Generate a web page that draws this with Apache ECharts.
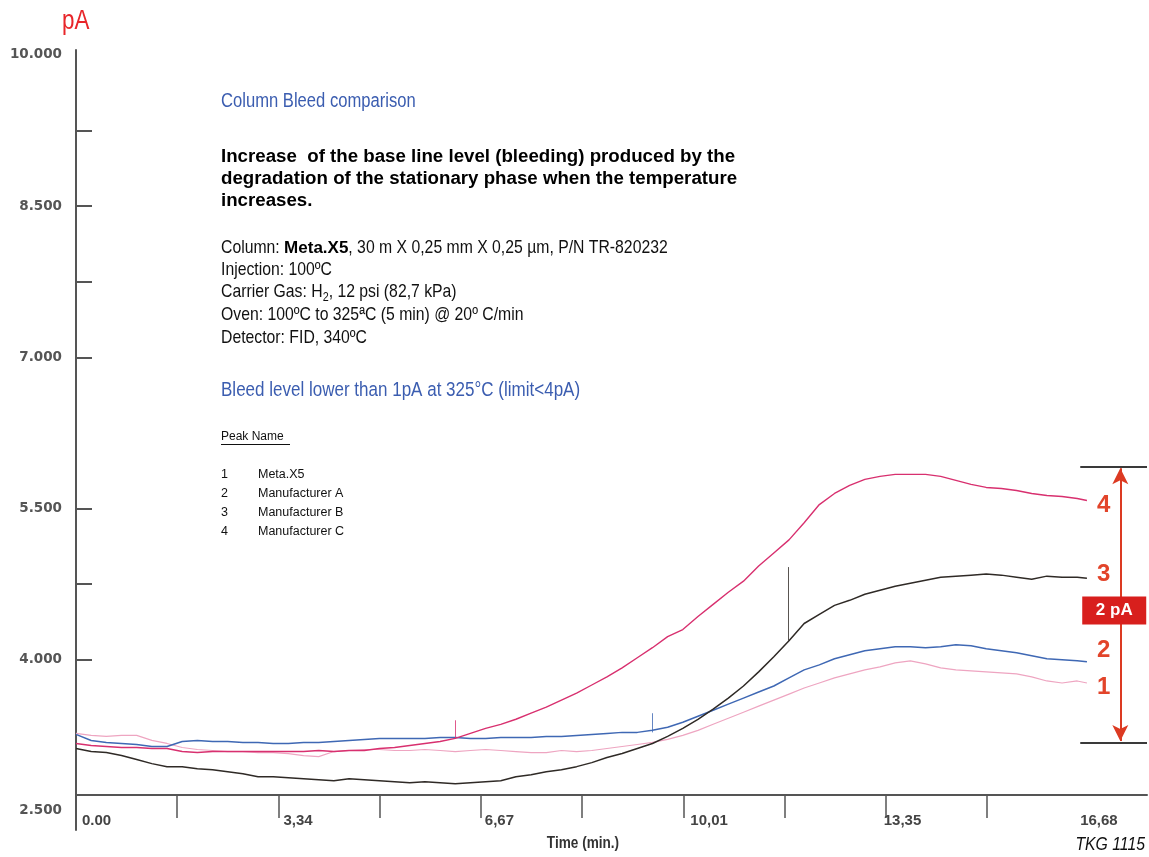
<!DOCTYPE html>
<html>
<head>
<meta charset="utf-8">
<script src="https://cdn.jsdelivr.net/npm/echarts@6/dist/echarts.min.js"></script>
<style>
html,body{margin:0;padding:0;background:#fff;}
#chart{width:1149px;height:857px;}
</style>
</head>
<body>
<div id="chart"></div>
<script>
// ---------------- data ----------------
const time = [0,0.25,0.5,0.75,1,1.25,1.5,1.75,2,2.25,2.5,2.75,3,3.25,3.5,3.75,4,4.25,4.5,4.75,5,5.25,5.5,5.75,6,6.25,6.5,6.75,7,7.25,7.5,7.75,8,8.25,8.5,8.75,9,9.25,9.5,9.75,10,10.25,10.5,10.75,11,11.25,11.5,11.75,12,12.25,12.5,12.75,13,13.25,13.5,13.75,14,14.25,14.5,14.75,15,15.25,15.5,15.75,16,16.25,16.5,16.66];

// 1 Meta.X5 (light pink)
const metaX5 = [3.27,3.25,3.24,3.25,3.25,3.20,3.17,3.13,3.11,3.10,3.09,3.09,3.08,3.08,3.07,3.05,3.04,3.09,3.10,3.11,3.11,3.10,3.10,3.11,3.10,3.09,3.10,3.11,3.10,3.09,3.08,3.08,3.10,3.09,3.10,3.12,3.14,3.16,3.18,3.21,3.25,3.30,3.36,3.42,3.48,3.54,3.60,3.66,3.72,3.77,3.82,3.86,3.90,3.93,3.97,3.99,3.96,3.92,3.90,3.89,3.88,3.87,3.86,3.83,3.79,3.77,3.79,3.77];
// 2 Manufacturer A (blue)
const manufA = [3.26,3.20,3.18,3.17,3.16,3.14,3.14,3.19,3.20,3.19,3.19,3.18,3.18,3.17,3.17,3.18,3.18,3.19,3.20,3.21,3.22,3.22,3.22,3.22,3.23,3.23,3.22,3.22,3.23,3.23,3.23,3.24,3.24,3.25,3.26,3.27,3.28,3.28,3.30,3.33,3.38,3.44,3.50,3.56,3.62,3.68,3.74,3.82,3.90,3.95,4.01,4.05,4.09,4.11,4.13,4.13,4.12,4.13,4.15,4.14,4.11,4.09,4.07,4.04,4.01,4.00,3.99,3.98];
// 3 Manufacturer B (dark)
const manufB = [3.12,3.09,3.08,3.05,3.01,2.97,2.94,2.94,2.92,2.91,2.89,2.87,2.84,2.84,2.83,2.82,2.81,2.80,2.82,2.81,2.80,2.79,2.78,2.79,2.78,2.77,2.78,2.79,2.80,2.84,2.86,2.89,2.91,2.94,2.98,3.03,3.07,3.12,3.17,3.24,3.32,3.41,3.51,3.62,3.74,3.88,4.03,4.19,4.36,4.45,4.54,4.59,4.65,4.69,4.73,4.76,4.79,4.82,4.83,4.84,4.85,4.84,4.82,4.80,4.83,4.82,4.82,4.81];
// 4 Manufacturer C (magenta)
const manufC = [3.17,3.15,3.14,3.13,3.13,3.12,3.12,3.09,3.08,3.09,3.09,3.09,3.09,3.09,3.09,3.09,3.10,3.09,3.10,3.10,3.12,3.13,3.15,3.17,3.19,3.22,3.27,3.32,3.36,3.41,3.47,3.53,3.60,3.67,3.75,3.83,3.92,4.02,4.12,4.23,4.30,4.43,4.55,4.67,4.78,4.93,5.06,5.19,5.36,5.54,5.65,5.73,5.79,5.82,5.84,5.84,5.84,5.82,5.78,5.74,5.71,5.70,5.68,5.65,5.63,5.62,5.60,5.58];

// spikes: [time, base, top]
const spikesA = [[9.49, 3.28, 3.47]];
const spikesB = [[11.74, 4.19, 4.92]];
const spikesC = [[6.25, 3.22, 3.40]];

const seriesNames = ['Meta.X5','Manufacturer A','Manufacturer B','Manufacturer C'];
const peakNumbers = ['1','2','3','4'];

// axes
const yTickValues = [4.0, 4.75, 5.5, 7.0, 7.75, 8.5, 9.25];
const yLabelValues = [2.5, 4.0, 5.5, 7.0, 8.5, 10.0];
const xTickValues = [1.668, 3.336, 5.004, 6.672, 8.34, 10.008, 11.676, 13.344, 15.012];
const xLabelValues = [0, 3.336, 6.672, 10.008, 13.344, 16.68];
const xLabelTexts = ['0.00','3,34','6,67','10,01','13,35','16,68'];

// bracket annotation (pA levels) and its label
const bracketLevels = [5.92, 3.175];
const bracketLabel = '2 pA';

// ---------------- chart ----------------
const SANS = "'Liberation Sans',Arial,Helvetica,sans-serif";
const NX = 0.83; // horizontal squeeze to imitate a narrow face
const colors = ['#eea5c1', '#3f68b4', '#2f2a26', '#d8306f'];
const widths = [1.2, 1.5, 1.5, 1.4];
const RED = '#e2442a';
const BLUE = '#3b5db0';

const X_MAX = 17.65, Y_MIN = 2.3115, Y_MAX = 10.0496;

function spikeLines(arr){ return arr.map(s => [{coord:[s[0], s[1]]},{coord:[s[0], s[2]]}]); }

const valueSets = [metaX5, manufA, manufB, manufC];
const spikeSets = [[], spikesA, spikesB, spikesC];
const endOffsets = [[0,4],[0,-11],[0,-4],[0,5]];

const lineSeries = valueSets.map((vals, k) => ({
  name: seriesNames[k],
  type: 'line',
  xAxisIndex: 0, yAxisIndex: 0,
  data: time.map((t, i) => [t, vals[i]]),
  showSymbol: false,
  symbol: 'none',
  z: k === 0 ? 2 : 3,
  lineStyle: {color: colors[k], width: widths[k]},
  itemStyle: {color: colors[k]},
  endLabel: {
    show: true, formatter: peakNumbers[k], distance: 10, offset: endOffsets[k],
    color: RED, fontSize: 24, fontWeight: 'bold', fontFamily: SANS
  },
  markLine: spikeSets[k].length ? {
    silent: true, symbol: 'none', animation: false,
    label: {show: false},
    lineStyle: {color: colors[k], width: 1, type: 'solid', opacity: 0.8},
    data: spikeLines(spikeSets[k])
  } : undefined
}));

const bracketX0 = 16.55, arrowX = 17.21;
const bracketSeries = {
  type: 'line', xAxisIndex: 0, yAxisIndex: 0, data: [],
  markLine: {
    silent: true, symbol: 'none', animation: false, label: {show: false},
    lineStyle: {color: '#3a3a3a', width: 2, type: 'solid'},
    data: bracketLevels.map(v => [{coord:[bracketX0, v]},{coord:[X_MAX, v]}])
  }
};
const arrowSeries = {
  type: 'line', xAxisIndex: 0, yAxisIndex: 0, data: [],
  markLine: {
    silent: true, symbol: ['arrow','arrow'], symbolSize: [12, 16], animation: false,
    label: {show: false},
    lineStyle: {color: '#dc3a22', width: 2, type: 'solid'},
    data: [[{coord:[arrowX, bracketLevels[0]-0.02]},{coord:[arrowX, bracketLevels[1]+0.02]}]]
  },
  markPoint: {
    silent: true, animation: false,
    data: [{
      coord: [17.11, 4.49], symbol: 'rect', symbolSize: [64, 28],
      itemStyle: {color: '#d81f1d'},
      label: {show: true, position: 'inside', formatter: bracketLabel, color: '#fff',
               fontSize: 17, fontWeight: 'bold', fontFamily: SANS}
    }]
  }
};

// text layout helpers
const mctx = document.createElement('canvas').getContext('2d');
function measure(text, font){ mctx.font = font; return mctx.measureText(text).width; }
const graphics = [];
function txt(text, x, y, font, fill, sx, align){
  graphics.push({type:'text', x:x, y:y, scaleX: sx || 1, silent:true,
    style:{text:text, font:font, fill:fill || '#111', align: align || 'left', verticalAlign:'middle'}});
}
function seg(x, y, parts){
  let cx = x;
  parts.forEach(p => {
    const [text, font, sx, fill, dy] = p;
    txt(text, cx, y + (dy || 0), font, fill, sx);
    cx += measure(text, font) * sx;
  });
}

const N19 = '19px ' + SANS;
txt('pA', 62, 22, '27px ' + SANS, '#e8262a', NX);
txt('Column Bleed comparison', 221, 101, '20px ' + SANS, BLUE, NX);
txt('Increase  of the base line level (bleeding) produced by the', 221, 157, 'bold 18.7px ' + SANS, '#000');
txt('degradation of the stationary phase when the temperature', 221, 179, 'bold 18.7px ' + SANS, '#000');
txt('increases.', 221, 201, 'bold 18.7px ' + SANS, '#000');
seg(221, 248, [['Column: ', N19, NX], ['Meta.X5', 'bold 17px ' + SANS, 1, '#000'], [', 30 m X 0,25 mm X 0,25 µm, P/N TR-820232', N19, NX]]);
txt('Injection: 100ºC', 221, 270, N19, '#111', NX);
seg(221, 292, [['Carrier Gas: H', N19, NX], ['2', '13px ' + SANS, NX, '#111', 5], [', 12 psi (82,7 kPa)', N19, NX]]);
txt('Oven: 100ºC to 325ªC (5 min) @ 20º C/min', 221, 315, N19, '#111', NX);
txt('Detector: FID, 340ºC', 221, 338, N19, '#111', NX);
txt('Bleed level lower than 1pA at 325°C (limit<4pA)', 221, 390, '20.5px ' + SANS, BLUE, NX);
txt('Peak Name', 221, 437, '12px ' + SANS, '#111');
graphics.push({type:'line', silent:true, shape:{x1:221, y1:444.5, x2:290, y2:444.5}, style:{stroke:'#111', lineWidth:1}});
seriesNames.forEach((n, k) => {
  const y = 475 + k * 18.7;
  txt(peakNumbers[k], 221, y, '12.5px ' + SANS, '#111');
  txt(n, 258, y, '12.5px ' + SANS, '#111');
});
txt('Time (min.)', 583, 843, 'bold 17px ' + SANS, '#333', 0.8, 'center');
txt('TKG 1115', 1145, 845, 'italic 19px ' + SANS, '#111', NX, 'right');

// per-label horizontal nudges as in the picture
const xLabelPad = [6, 5, 4, 7, -2, -8];
const xRich = {};
xLabelPad.forEach((p, i) => { xRich['p' + i] = {padding: [0, 0, 0, p], fontFamily: SANS, fontWeight: 'bold', fontSize: 15, color: '#444'}; });

const chart = echarts.init(document.getElementById('chart'), null, {renderer: 'canvas'});
chart.setOption({
  animation: false,
  backgroundColor: '#ffffff',
  grid: [
    {left: 76, top: 50, width: 1071, height: 780, containLabel: false},
    {left: 76, top: 794, width: 1071, height: 1, containLabel: false}
  ],
  xAxis: [
    {gridIndex: 0, type: 'value', min: 0, max: X_MAX, show: false},
    {gridIndex: 1, type: 'value', min: 0, max: X_MAX,
     axisLine: {show: true, onZero: false, lineStyle: {color: '#555', width: 2}},
     axisTick: {show: true, customValues: xTickValues, length: 23, inside: false,
                lineStyle: {color: '#555', width: 1.5}},
     axisLabel: {show: true, customValues: xLabelValues, margin: 18, align: 'left',
                 formatter: v => { const i = xLabelValues.findIndex(x => Math.abs(x - v) < 1e-6); return i >= 0 ? '{p' + i + '|' + xLabelTexts[i] + '}' : ''; },
                 rich: xRich,
                 fontFamily: SANS, fontWeight: 'bold', fontSize: 15, color: '#444'},
     splitLine: {show: false}}
  ],
  yAxis: [
    {gridIndex: 0, type: 'value', min: Y_MIN, max: Y_MAX,
     axisLine: {show: true, onZero: false, lineStyle: {color: '#555', width: 2}},
     axisTick: {show: true, inside: true, length: 16, customValues: yTickValues,
                lineStyle: {color: '#555', width: 2}},
     axisLabel: {show: true, customValues: yLabelValues, margin: 14,
                 formatter: v => v.toFixed(3),
                 fontFamily: "'DejaVu Sans',sans-serif", fontWeight: 'bold', fontSize: 13.5, color: '#555'},
     splitLine: {show: false}},
    {gridIndex: 1, type: 'value', min: 0, max: 1, show: false}
  ],
  series: lineSeries.concat([bracketSeries, arrowSeries]),
  graphic: graphics
});
</script>
</body>
</html>
